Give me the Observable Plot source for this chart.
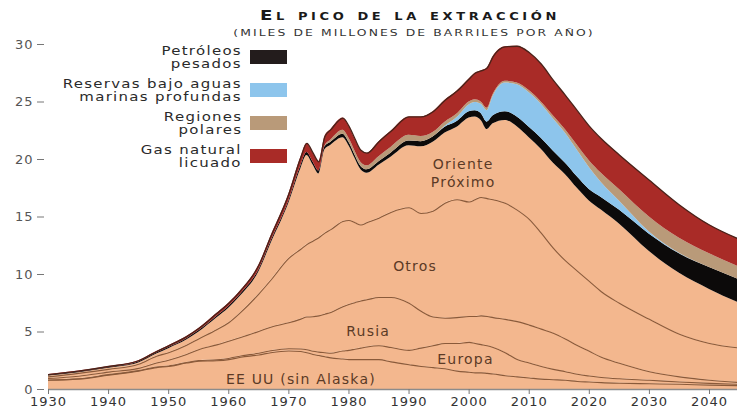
<!DOCTYPE html>
<html>
<head>
<meta charset="utf-8">
<script src="https://cdn.jsdelivr.net/npm/d3@7"></script>
<script src="https://cdn.jsdelivr.net/npm/@observablehq/plot@0.6"></script>
<style>
  html, body { margin: 0; padding: 0; background: #fff; }
  #wrap { position: relative; width: 737px; height: 410px; overflow: hidden; font-family: "DejaVu Sans", sans-serif; }
  #chart { position: absolute; left: 0; top: 0; }
  .title { position: absolute; left: 0; top: 7px; width: 820px; text-align: center; font-weight: bold; font-size: 14px; line-height: 16px;
           font-variant: small-caps; letter-spacing: 2.8px; color: #1a1a1a; transform: scaleX(1.3); transform-origin: 410px 0; white-space: nowrap; }
  .sub { position: absolute; left: 0; top: 27px; width: 828px; text-align: center; font-size: 9.5px; line-height: 12px;
         letter-spacing: 1.6px; color: #333; transform: scaleX(1.3); transform-origin: 414px 0; white-space: nowrap; }
  .leg-text { position: absolute; right: 495px; text-align: right; font-size: 11.5px; line-height: 13px; letter-spacing: 1px; color: #2a2a2a;
              transform: scaleX(1.3); transform-origin: right center; white-space: nowrap; }
  .leg-sw { position: absolute; left: 250px; width: 37px; height: 14px; }
  #wrap svg g[aria-label="text"] text { letter-spacing: 1.2px; }
  #wrap svg g[aria-label="x-axis tick label"] text { letter-spacing: 1px; }
  #wrap svg g[aria-label="y-axis tick label"] text { letter-spacing: 1px; }
</style>
</head>
<body>
<div id="wrap">
  <div id="chart"></div>
  <div class="title">El pico de la extracción</div>
  <div class="sub">(MILES DE MILLONES DE BARRILES POR AÑO)</div>
  <div id="legend"></div>
</div>
<script>
const years = [1930,1935,1940,1945,1948,1950,1953,1955,1958,1960,1962,1965,1967,1970,1972,1973,1974,1975,1976,1977,1979,1980,1981,1982,1983,1985,1987,1990,1992,1994,1996,1998,2000,2001,2002,2003,2004,2006,2008,2010,2012,2014,2016,2018,2020,2022,2025,2030,2035,2040,2045];

const eeuu = [0.8,0.9,1.25,1.6,1.9, 2.0,2.3,2.45,2.5,2.6, 2.8,3.0,3.2,3.35,3.3, 3.2,3.05,2.95,2.85,2.75, 2.65,2.6,2.6,2.6,2.6, 2.6,2.4,2.15,2.0,1.9, 1.8,1.6,1.5,1.45,1.45, 1.4,1.35,1.2,1.1,1.0, 0.9,0.85,0.8,0.7,0.65, 0.6,0.55,0.5,0.45,0.38, 0.33];
const europa = [0.03,0.03,0.04,0.04,0.05, 0.05,0.05,0.06,0.08,0.1, 0.12,0.15,0.17,0.2,0.22, 0.25,0.27,0.3,0.35,0.4, 0.7,0.8,0.9,1.0,1.1, 1.2,1.25,1.25,1.6,1.9, 2.2,2.4,2.6,2.55,2.45, 2.4,2.3,2.0,1.5,1.3, 1.1,0.9,0.75,0.62,0.52, 0.45,0.38,0.3,0.2,0.15, 0.12];
const rusia = [0.12,0.22,0.22,0.2,0.35, 0.5,0.7,0.95,1.3,1.5, 1.6,1.9,2.05,2.25,2.6, 2.85,3.0,3.15,3.35,3.55, 3.85,4.0,4.05,4.1,4.1, 4.2,4.35,4.1,3.2,2.5, 2.2,2.25,2.25,2.35,2.5, 2.55,2.6,2.9,3.3,3.3, 3.25,3.15,2.85,2.5,2.15, 1.75,1.35,0.75,0.45,0.28, 0.15];
const otros = [0.15,0.25,0.24,0.36,0.6, 0.65,0.8,0.94,1.32,1.6, 2.18,3.25,4.08,5.6,6.08, 6.3,6.58,6.8,7.05,7.2, 7.4,7.3,6.95,6.6,6.7, 6.9,7.4,8.3,8.5,9.2, 10.0,10.25,9.95,10.15,10.3, 10.25,10.25,10.1,9.7,9.2, 8.35,7.4,6.8,6.48,6.08, 5.7,5.22,4.55,3.7,3.19, 3.0];
const orienteProximo = [0.07,0.05,0.09,0.1,0.18, 0.35,0.45,0.58,1.02,1.27, 1.45,1.92,3.15,4.8,7.0, 7.75,6.65,5.55,7.25,7.35, 7.3,6.5,5.6,4.8,4.3, 4.6,4.8,5.4,5.8,6.0, 6.1,6.3,7.3,7.2,6.7, 6.0,6.6,7.2,7.25,7.1, 7.3,7.4,7.5,7.2,7.0, 7.1,6.9,5.9,5.3,4.7, 3.9];
const pesados = [0.07,0.08,0.08,0.1,0.1, 0.1,0.12,0.12,0.13,0.15, 0.15,0.18,0.2,0.2,0.25, 0.25,0.25,0.25,0.25,0.25, 0.3,0.3,0.3,0.3,0.3, 0.3,0.35,0.4,0.45,0.45, 0.5,0.5,0.55,0.55,0.6, 0.65,0.7,0.75,0.85,0.9, 0.95,1.05,1.0,1.0,1.0, 1.1,1.2,1.5,1.7,1.9, 2.05];
const profundas = [0,0,0,0,0, 0,0,0,0,0, 0,0,0,0,0, 0,0,0,0,0, 0,0,0,0,0, 0,0,0,0,0, 0.1,0.35,0.6,0.7,0.8, 1.0,1.7,2.5,2.8,3.0, 2.95,2.8,2.6,2.3,1.9, 1.3,0.8,0.2,0.05,0, 0];
const polares = [0,0,0,0,0, 0,0,0,0,0, 0,0,0,0,0, 0,0,0,0.05,0.2, 0.35,0.35,0.35,0.35,0.35, 0.45,0.5,0.5,0.45,0.4, 0.35,0.3,0.25,0.25,0.2, 0.2,0.15,0.15,0.15,0.2, 0.2,0.25,0.3,0.45,0.6, 0.8,1.0,1.3,1.3,1.2, 1.1];
const gasLicuado = [0.06,0.07,0.08,0.1,0.12, 0.15,0.18,0.2,0.25,0.28, 0.3,0.4,0.45,0.6,0.75, 0.8,0.8,0.8,0.85,0.9, 1.05,1.05,1.05,1.05,1.1, 1.3,1.4,1.6,1.7,1.8, 1.9,2.0,2.0,2.3,2.7, 3.5,3.3,3.0,3.2,3.3, 3.3,3.1,3.0,3.0,3.0, 3.0,3.0,3.2,2.9,2.5, 2.4];

const seriesNames = ["EE UU (sin Alaska)", "Europa", "Rusia", "Otros", "Oriente Próximo",
  "Petróleos pesados", "Reservas bajo aguas marinas profundas", "Regiones polares", "Gas natural licuado"];
const seriesValues = [eeuu, europa, rusia, otros, orienteProximo, pesados, profundas, polares, gasLicuado];
const seriesColors = ["#f3b78e", "#f3b78e", "#f3b78e", "#f3b78e", "#f3b78e", "#0c0a0a", "#8dc5ec", "#b99a79", "#a92b27"];
const peachLines = ["EE UU (sin Alaska)", "Europa", "Rusia", "Otros"];

const xTicks = [1930, 1940, 1950, 1960, 1970, 1980, 1990, 2000, 2010, 2020, 2030, 2040];
const yTicks = [0, 5, 10, 15, 20, 25, 30];

const areaLabels = [
  {text: "Oriente\nPróximo", year: 1999, value: 18.9},
  {text: "Otros", year: 1991, value: 10.8},
  {text: "Rusia", year: 1983.2, value: 5.15},
  {text: "Europa", year: 1999.4, value: 2.7},
  {text: "EE UU (sin Alaska)", year: 1972, value: 0.95}
];

const legendLines = [["Petróleos", "pesados"], ["Reservas bajo aguas", "marinas profundas"], ["Regiones", "polares"], ["Gas natural", "licuado"]];
const legendColors = ["#231c1c", "#8dc5ec", "#b99a79", "#a92b27"];

const tidy = [];
seriesNames.forEach((s, k) => years.forEach((yr, i) => tidy.push({series: s, year: yr, value: seriesValues[k][i]})));
const totals = years.map((yr, i) => d3.sum(seriesValues, v => v[i]));

const chart = Plot.plot({
  width: 737, height: 410,
  marginTop: 44, marginBottom: 21, marginLeft: 48, marginRight: 0,
  style: {fontFamily: "DejaVu Sans, sans-serif", fontSize: "13px", color: "#333", background: "transparent", overflow: "visible"},
  x: {domain: [1930, 2044.66], label: null},
  y: {domain: [0, 30], label: null},
  color: {domain: seriesNames, range: seriesColors},
  marks: [
    Plot.areaY(tidy, {x: "year", y: "value", z: "series", fill: "series", order: seriesNames, curve: "monotone-x", clip: true}),
    Plot.lineY(tidy.filter(d => peachLines.includes(d.series)),
      Plot.stackY2({x: "year", y: "value", z: "series", order: peachLines, stroke: "#8a5a3a", strokeWidth: 1.1, curve: "monotone-x", clip: true})),
    Plot.lineY(years, {x: d => d, y: (d, i) => totals[i], stroke: "#4a2219", strokeWidth: 1.3, curve: "monotone-x", clip: true}),
    Plot.ruleY([0], {stroke: "#8c8c8c", strokeWidth: 1.5}),
    Plot.axisX({ticks: xTicks, tickFormat: d => String(d), tickSize: 5, tickPadding: 2, stroke: "#777", fill: "#333", label: null}),
    Plot.axisY({ticks: yTicks, tickSize: 7, tickPadding: 4, dx: -4, stroke: "#777", fill: "#555", label: null}),
    Plot.text(areaLabels, {x: "year", y: "value", text: "text", fontSize: 14, fill: "#5b3a26", lineHeight: 1.28})
  ]
});
document.getElementById("chart").appendChild(chart);

const legend = document.getElementById("legend");
legendLines.forEach((lines, i) => {
  const c = 57 + 33 * i;
  const t = document.createElement("div");
  t.className = "leg-text";
  t.style.top = (c - 12) + "px";
  t.innerHTML = lines.join("<br>");
  legend.appendChild(t);
  const sw = document.createElement("div");
  sw.className = "leg-sw";
  sw.style.top = (c - 7) + "px";
  sw.style.background = legendColors[i];
  legend.appendChild(sw);
});
</script>
</body>
</html>
